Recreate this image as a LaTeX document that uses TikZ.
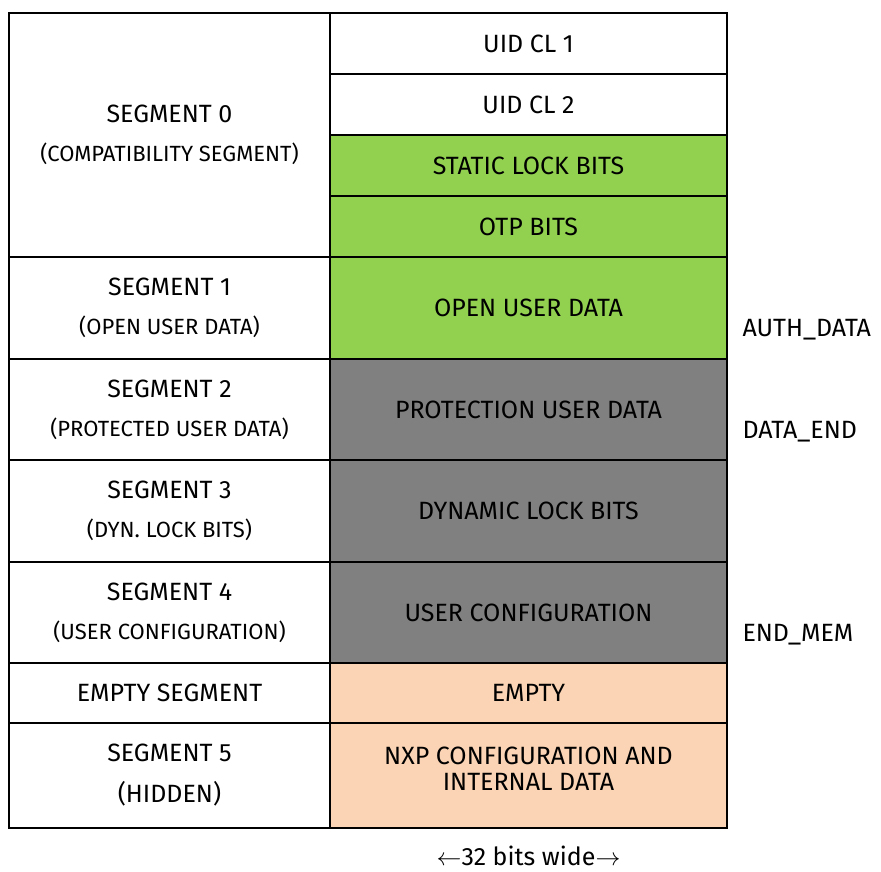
\documentclass[tikz,border=0pt]{standalone}
\usepackage{fontspec}
\setmainfont{Fira Sans}
\usetikzlibrary{positioning}

\definecolor{opengreen}{HTML}{92D050}
\definecolor{lockgray}{HTML}{808080}
\definecolor{emptypeach}{HTML}{FAD4B4}

\newcommand{\subtext}[1]{{\fontsize{22}{26}\selectfont #1}}

\tikzset{
  cell/.style={draw, line width=1.5pt, inner sep=0pt, outer sep=0pt, align=center,
    font=\fontsize{25}{30}\selectfont},
  segcell/.style={cell, minimum width=321pt},
  memcell/.style={cell, minimum width=397pt},
  addr/.style={anchor=west, font=\fontsize{25}{30}\selectfont}
}

\begin{document}
\begin{tikzpicture}[x=1pt, y=-1pt]
  \useasboundingbox (0,0) rectangle (881,871);
  % memory words, right column
  \node[memcell, minimum height=61pt, anchor=north west] (uid1) at (330,13) {UID CL 1};
  \node[memcell, minimum height=61pt] (uid2) [below=0pt of uid1] {UID CL 2};
  \node[memcell, minimum height=61pt, fill=opengreen] (slock) [below=0pt of uid2] {STATIC LOCK BITS};
  \node[memcell, minimum height=61pt, fill=opengreen] (otp) [below=0pt of slock] {OTP BITS};
  \node[memcell, minimum height=102pt, fill=opengreen] (open) [below=0pt of otp] {OPEN USER DATA};
  \node[memcell, minimum height=101pt, fill=lockgray] (prot) [below=0pt of open] {PROTECTION USER DATA};
  \node[memcell, minimum height=102pt, fill=lockgray] (dyn) [below=0pt of prot] {DYNAMIC LOCK BITS};
  \node[memcell, minimum height=101pt, fill=lockgray] (ucfg) [below=0pt of dyn] {USER CONFIGURATION};
  \node[memcell, minimum height=60pt, fill=emptypeach] (empty) [below=0pt of ucfg] {EMPTY};
  \node[memcell, minimum height=105pt, fill=emptypeach] (nxp) [below=0pt of empty]
    {NXP CONFIGURATION AND\\[-4pt]INTERNAL DATA\\[-17pt]};
  % segments, left column
  \node[segcell, minimum height=244pt, anchor=north east] (seg0) at (uid1.north west)
    {SEGMENT 0\\[9pt]\subtext{(COMPATIBILITY SEGMENT)}};
  \node[segcell, minimum height=102pt] (seg1) [below=0pt of seg0]
    {SEGMENT 1\\[9pt]\subtext{(OPEN USER DATA)}};
  \node[segcell, minimum height=101pt] (seg2) [below=0pt of seg1]
    {SEGMENT 2\\[9pt]\subtext{(PROTECTED USER DATA)}};
  \node[segcell, minimum height=102pt] (seg3) [below=0pt of seg2]
    {SEGMENT 3\\[9pt]\subtext{(DYN. LOCK BITS)}};
  \node[segcell, minimum height=101pt] (seg4) [below=0pt of seg3]
    {SEGMENT 4\\[9pt]\subtext{(USER CONFIGURATION)}};
  \node[segcell, minimum height=60pt] (segE) [below=0pt of seg4] {EMPTY SEGMENT};
  \node[segcell, minimum height=105pt] (seg5) [below=0pt of segE]
    {SEGMENT 5\\[11pt](HIDDEN)};
  % address labels
  \node[addr] (authdata) at ([xshift=12pt, yshift=-22pt]open.east) {AUTH\_DATA};
  \node[addr] (dataend) at ([xshift=12pt, yshift=-22pt]prot.east) {DATA\_END};
  \node[addr] (endmem) at ([xshift=12pt, yshift=-22pt]ucfg.east) {END\_MEM};
  \node[font=\fontsize{25}{30}\selectfont] (width) [below=14pt of nxp.south]
    {$\leftarrow$32 bits wide$\rightarrow$};
\end{tikzpicture}
\end{document}
